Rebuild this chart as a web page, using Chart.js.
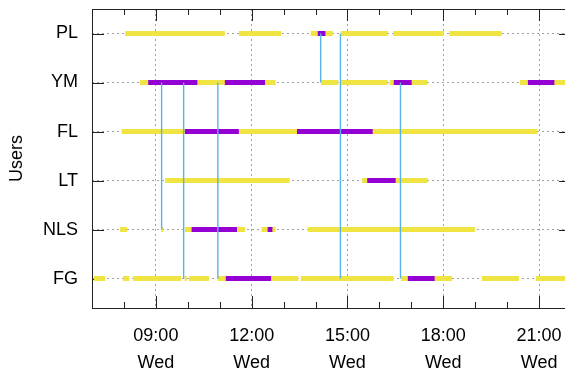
<!DOCTYPE html>
<html>
<head>
<meta charset="utf-8">
<script src="https://cdn.jsdelivr.net/npm/chart.js@4.4.0/dist/chart.umd.min.js"></script>
<style>
    html, body { margin: 0; padding: 0; background: #fff; overflow: hidden; }
</style>
</head>
<body>
<canvas id="grafico" width="580" height="375"></canvas>
<script>
// linhas do eixo y, de baixo para cima
const usuarios = ['FG', 'NLS', 'LT', 'FL', 'YM', 'PL'];
const horasMarcadas = [9, 12, 15, 18, 21];
const rotulosHora = ['09:00', '12:00', '15:00', '18:00', '21:00'];
const rotulosDia = ['Wed', 'Wed', 'Wed', 'Wed', 'Wed'];

// intervalos em horas do dia [inicio, fim]
const amareloPL = [[8.04, 11.16], [11.60, 12.92], [13.85, 14.54], [14.79, 16.26], [16.43, 18.02], [18.19, 19.83]];
const roxoPL = [[14.07, 14.31]];
const amareloYM = [[8.50, 12.75], [14.17, 14.71], [14.80, 16.26], [16.32, 17.51], [20.40, 22]];
const roxoYM = [[8.76, 10.30], [11.16, 12.42], [16.45, 17.01], [20.65, 21.48]];
const amareloFL = [[7.93, 20.95]];
const roxoFL = [[9.91, 11.60], [13.42, 15.79]];
const amareloLT = [[9.29, 13.19], [15.46, 17.52]];
const roxoLT = [[15.62, 16.51]];
const amareloNLS = [[7.88, 8.10], [9.17, 9.23], [9.91, 11.79], [12.31, 12.75], [13.76, 18.99]];
const roxoNLS = [[10.12, 11.54], [12.50, 12.65]];
const amareloFG = [[7.06, 7.41], [7.97, 8.17], [8.29, 9.79], [9.90, 9.97], [10.04, 10.66], [10.94, 13.46], [13.54, 16.45], [16.68, 18.28], [19.21, 20.37], [20.90, 22]];
const roxoFG = [[11.19, 12.61], [16.89, 17.73]];

// ligacoes verticais [hora, de, ate]
const ligacoes = [[9.18, 'YM', 'NLS'], [9.87, 'YM', 'FG'], [10.94, 'YM', 'FG'], [14.16, 'PL', 'YM'], [14.78, 'PL', 'FG'], [16.66, 'YM', 'FG']];

const montarPontos = (linhas) => {
    const pontos = [];
    linhas.forEach(([usuario, intervalos]) => {
        const y = usuarios.indexOf(usuario);
        intervalos.forEach(([ini, fim]) => {
            pontos.push({ x: ini, y: y }, { x: fim, y: y }, { x: fim, y: null });
        });
    });
    return pontos;
};

const pontosAmarelos = montarPontos([['PL', amareloPL], ['YM', amareloYM], ['FL', amareloFL], ['LT', amareloLT], ['NLS', amareloNLS], ['FG', amareloFG]]);
const pontosRoxos = montarPontos([['PL', roxoPL], ['YM', roxoYM], ['FL', roxoFL], ['LT', roxoLT], ['NLS', roxoNLS], ['FG', roxoFG]]);
const pontosAzuis = [];
ligacoes.forEach(([h, de, ate]) => {
    pontosAzuis.push({ x: h, y: usuarios.indexOf(de) }, { x: h, y: usuarios.indexOf(ate) }, { x: h, y: null });
});

const serie = (pontos, cor, largura) => ({
    data: pontos,
    borderColor: cor,
    borderWidth: largura,
    borderCapStyle: 'butt',
    pointRadius: 0,
    pointHoverRadius: 0,
    fill: false,
    tension: 0,
    spanGaps: false
});

// moldura e marcas para dentro, estilo gnuplot
const molduraPlugin = {
    id: 'moldura',
    beforeDatasetsDraw(chart) {
        const { ctx, chartArea: a, scales: { x, y } } = chart;
        const linha = (x1, y1, x2, y2) => {
            ctx.beginPath();
            ctx.moveTo(x1, y1);
            ctx.lineTo(x2, y2);
            ctx.stroke();
        };
        ctx.save();
        ctx.strokeStyle = '#222';
        ctx.lineWidth = 1;
        ctx.strokeRect(a.left + 0.5, a.top + 0.5, a.right - a.left, a.bottom - a.top);
        for (let h = Math.ceil(x.min); h <= x.max; h++) {
            const px = Math.round(x.getPixelForValue(h)) + 0.5;
            const tam = horasMarcadas.includes(h) ? 12 : 6;
            linha(px, a.bottom, px, a.bottom - tam);
            linha(px, a.top, px, a.top + tam);
        }
        usuarios.forEach((_, i) => {
            const py = Math.round(y.getPixelForValue(i)) + 0.5;
            linha(a.left, py, a.left + 12, py);
            linha(a.right, py, a.right - 12, py);
        });
        ctx.restore();
    }
};

const fonte = { family: "'Liberation Sans', Arial, sans-serif", size: 18 };

new Chart(document.getElementById('grafico'), {
    type: 'line',
    data: {
        datasets: [
            serie(pontosAzuis, '#56b4e9', 1.4),
            serie(pontosRoxos, '#9400d3', 5),
            serie(pontosAmarelos, '#f0e442', 5)
        ]
    },
    options: {
        responsive: false,
        animation: false,
        devicePixelRatio: 1,
        layout: { padding: { top: 9, right: 9, left: 0, bottom: 0 } },
        plugins: {
            legend: { display: false },
            tooltip: { enabled: false }
        },
        scales: {
            x: {
                type: 'linear',
                min: 7,
                max: 22,
                afterBuildTicks: (s) => { s.ticks = horasMarcadas.map((v) => ({ value: v })); },
                afterFit: (s) => {
                    s.height = 67;
                    s.paddingLeft = 0;
                    s.paddingRight = 0;
                },
                ticks: {
                    autoSkip: false,
                    maxRotation: 0,
                    padding: 15,
                    color: '#000',
                    font: { ...fonte, lineHeight: 1.5 },
                    callback: (v) => {
                        const i = horasMarcadas.indexOf(v);
                        return [rotulosHora[i], rotulosDia[i]];
                    }
                },
                grid: { color: '#a0a0a0', lineWidth: 1, drawTicks: false },
                border: { display: false, dash: [2, 3] }
            },
            y: {
                type: 'linear',
                min: -0.6,
                max: 5.5,
                afterBuildTicks: (s) => { s.ticks = usuarios.map((_, i) => ({ value: i })); },
                afterFit: (s) => {
                    s.width = 92;
                    s.paddingTop = 0;
                    s.paddingBottom = 0;
                },
                ticks: {
                    padding: 14,
                    color: '#000',
                    font: fonte,
                    callback: (v) => usuarios[v]
                },
                title: {
                    display: true,
                    text: 'Users',
                    color: '#000',
                    font: fonte,
                    padding: { top: 6.5, bottom: 0 }
                },
                grid: { color: '#a0a0a0', lineWidth: 1, drawTicks: false },
                border: { display: false, dash: [2, 3] }
            }
        }
    },
    plugins: [molduraPlugin]
});
</script>
</body>
</html>
